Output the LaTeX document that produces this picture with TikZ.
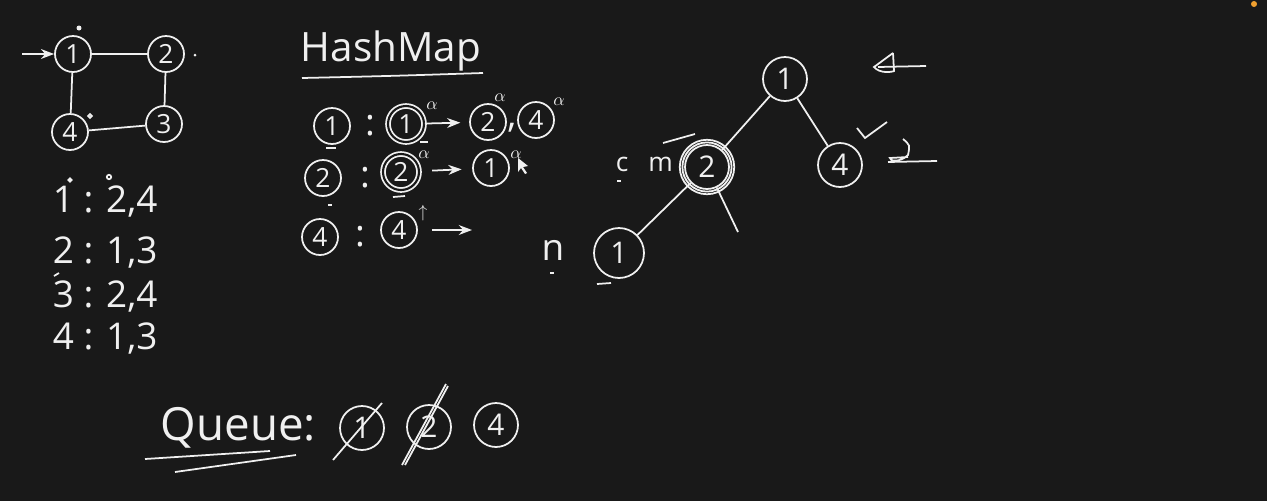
\documentclass[tikz,border=0pt]{standalone}
\usepackage{fontspec}
\setmainfont{Open Sans}
\usetikzlibrary{arrows.meta, positioning, calc}
\definecolor{bBoard}{HTML}{191919}
\definecolor{bChalk}{HTML}{F0F0F0}
\definecolor{bOrange}{HTML}{F0A030}

\begin{document}
\begin{tikzpicture}[x=0.02cm, y=-0.02cm, line width=1pt, color=bChalk,
      vx/.style={draw=bChalk, circle, minimum size=7.2mm, inner sep=0pt,
                 text=bChalk, font=\fontsize{15}{18}\selectfont},
      dv/.style={vx, double=bBoard, double distance=1.2pt},
      tv/.style={vx, minimum size=8.8mm, font=\fontsize{17}{20}\selectfont},
      adj/.style={anchor=west, inner sep=0pt, text=bChalk, font=\fontsize{21}{25}\selectfont},
      mk/.style={inner sep=0pt, text=bChalk, font=\normalsize},
      ttl/.style={inner sep=0pt, text=bChalk, font=\fontsize{23}{28}\selectfont}]
    \fill[bBoard] (0,0) rectangle (1267,501);
    \fill[bOrange] (1254,4) circle (3);
    % graph
    \node[vx] (g1) at (73,54) {1};
    \node[vx] (g2) at (166,54) {2};
    \node[vx] (g3) at (164,124) {3};
    \node[vx] (g4) at (70,132) {4};
    \foreach \a/\b in {g1/g2, g2/g3, g3/g4, g4/g1}
      \draw (\a) -- (\b);
    \coordinate (gin) at (22,54);
    \draw[-{Stealth}] (gin) -- (g1);
    \fill (79,28) circle (2.5);
    \fill (195,55) circle (1.5);
    \draw (90,116) circle (1.8);
    % adjacency list
    \node[adj] (a1) at (52,202) {1 : 2,4};
    \node[adj] (a2) at (52,253) {2 : 1,3};
    \node[adj] (a3) at (52,297) {3 : 2,4};
    \node[adj] (a4) at (52,339) {4 : 1,3};
    \draw (70,180) circle (1.6);
    \draw (109,177) circle (2.2);
    \draw (54,276) -- (59,273);
    % hashmap
    \node[ttl, anchor=south west] (hm) at (300,72) {HashMap};
    \draw (302,78) .. controls (390,76) .. (483,73);
    \node[vx] (k1) at (332,126) {1};
    \node[adj, anchor=center] (c1) at (370,126) {:};
    \node[dv] (v1) at (406,124) {1};
    \node[vx] (n12) at (488,122) {2};
    \node[adj, anchor=center] (cm1) at (512,128) {,};
    \node[vx] (n14) at (536,120) {4};
    \draw[-{Stealth}, shorten >=5pt] (v1) -- (n12);
    \node[vx] (k2) at (323,178) {2};
    \node[adj, anchor=center] (c2) at (365,178) {:};
    \node[dv] (v2) at (401,172) {2};
    \node[vx] (n21) at (491,168) {1};
    \draw[-{Stealth}, shorten <=7pt, shorten >=6pt] (v2) -- (n21);
    \node[vx] (k4) at (320,237) {4};
    \node[adj, anchor=center] (c4) at (360,237) {:};
    \node[vx] (v4) at (399,230) {4};
    \coordinate (v4end) at (472,230);
    \draw[-{Stealth}, shorten <=8pt] (v4) -- (v4end);
    \foreach \p in {(432,106), (500,98), (559,102), (424,155), (516,155)}
      \node[mk] at \p {$\alpha$};
    \node[mk] at (423,213) {$\uparrow$};
    \fill (518,158) -- (518,172) -- (521,168) -- (525,174) -- (527,173) -- (523,167) -- (528,166) -- cycle;
    \draw (326,148) -- (336,148);
    \draw (420,142) -- (428,142);
    \draw (393,197) -- (405,196);
    \draw (328,205) -- (332,205);
    % tree
    \node[tv] (t1) at (785,79) {1};
    \node[tv] (t2) at (707,167) {2};
    \node[tv] (t4) at (840,165) {4};
    \node[tv, minimum size=10mm] (t5) at (619,253) {1};
    \coordinate (tend) at (738,232);
    \draw (t2) circle (14pt);
    \draw (t2) circle (15.5pt);
    \foreach \a/\b in {t1/t2, t1/t4, t2/t5, t2/tend}
      \draw (\a) -- (\b);
    \node[adj, font=\fontsize{15}{18}\selectfont] (cw) at (615,164) {c\hspace{4mm}m};
    \draw (663,143) -- (695,134);
    \draw (617,181) -- (621,181);
    \node[adj, anchor=center] (nn) at (553,250) {n};
    \draw (550,273) -- (554,273);
    \draw (597,284) -- (611,283);
    \draw (857,128) -- (865,138) -- (887,122);
    \draw (893,53) -- (874,67) .. controls (880,74) and (892,72) .. (894,71) -- (893,53);
    \draw (878,67) -- (926,66);
    \draw (903,139) .. controls (910,145) .. (908,155) .. controls (900,163) and (889,161) .. (890,158) -- (908,157);
    \draw (888,162) -- (937,161);
    % queue
    \node[ttl, anchor=west, font=\fontsize{26}{30}\selectfont] (qu) at (160,428) {Queue:};
    \draw (145,459) -- (270,451);
    \draw (175,472) -- (296,455);
    \node[tv] (q1) at (362,428) {1};
    \node[tv] (q2) at (429,427) {2};
    \node[tv] (q4) at (496,425) {4};
    \coordinate (q1a) at (333,460);
    \coordinate (q1b) at (382,403);
    \coordinate (q2a) at (402,465);
    \coordinate (q2b) at (446,384);
    \draw (q1a) -- (q1b);
    \draw (q2a) -- (q2b);
    \draw ($(q2a)+(3,0)$) -- ($(q2b)+(2,2)$);
  \end{tikzpicture}
\end{document}
